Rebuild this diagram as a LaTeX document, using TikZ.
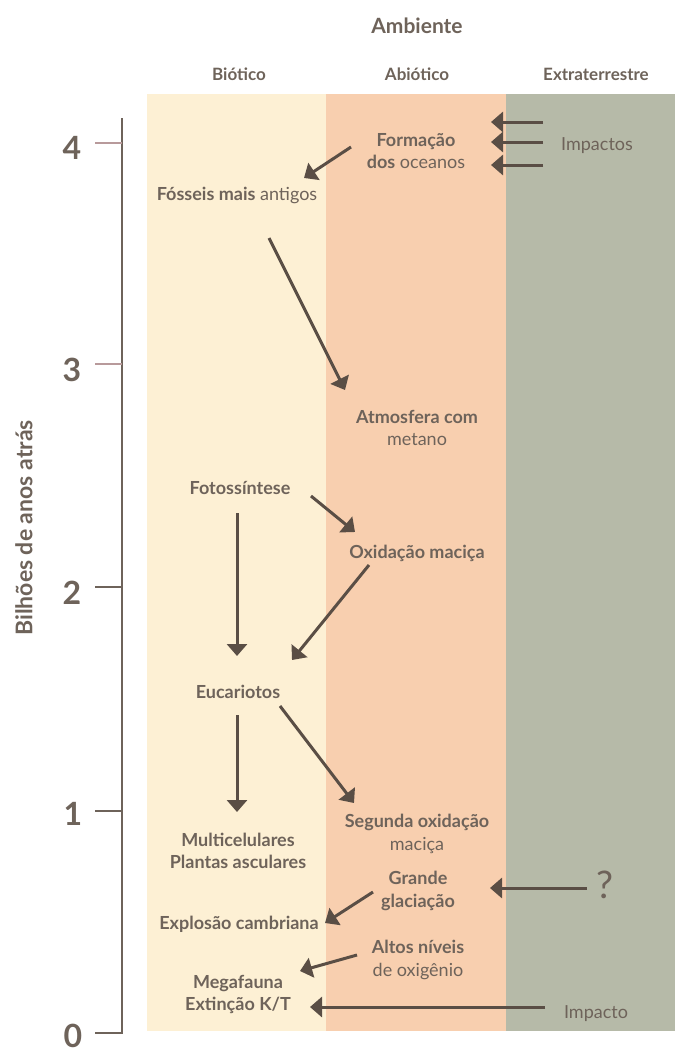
\documentclass[tikz,border=0pt]{standalone}
\usepackage{fontspec}
\setmainfont{Lato}
\usetikzlibrary{arrows.meta}
\definecolor{biocol}{HTML}{FDF0D4}
\definecolor{abiocol}{HTML}{F8CFAF}
\definecolor{extcol}{HTML}{B6BAA8}
\definecolor{txtcol}{HTML}{6E635A}
\definecolor{arrcol}{HTML}{5A4E45}
\definecolor{tickpink}{HTML}{B89A9B}
\begin{document}
\begin{tikzpicture}[x=1pt,y=-1pt,
  lbl/.style={text=txtcol, align=center, inner sep=0pt, font=\fontsize{18}{22.5}\selectfont},
  head/.style={text=txtcol, inner sep=0pt, font=\fontsize{17}{20}\selectfont\bfseries},
  num/.style={text=txtcol, inner sep=0pt, font=\fontsize{32}{32}\selectfont\bfseries},
  arr/.style={draw=arrcol, line width=3pt, -{Triangle[length=12pt,width=20pt]}},
  axisline/.style={draw=txtcol, line width=2.8pt},
  tickline/.style={line width=2.5pt}]
\useasboundingbox (0,0) rectangle (675,1052);
% panels
\fill[biocol] (147,94) rectangle (326,1031);
\fill[abiocol] (326,94) rectangle (506,1031);
\fill[extcol] (506,94) rectangle (675,1031);
% headers
\node[head, font=\fontsize{21}{24}\selectfont\bfseries] (amb) at (417,26) {Ambiente};
\node[head] (bio) at (239,74) {Biótico};
\node[head] (abio) at (417,74) {Abiótico};
\node[head] (ext) at (596,74) {Extraterrestre};
% axis
\coordinate (atop) at (122,118);
\coordinate (abot) at (122,1033);
\draw[axisline, line join=miter] (atop) -- (abot) -- ++(-27,0);
\draw[tickline, draw=tickpink] (95,143) -- (122,143);
\draw[tickline, draw=tickpink] (95,364) -- (122,364);
\draw[tickline, draw=txtcol] (95,587) -- (122,587);
\draw[tickline, draw=txtcol] (95,811) -- (122,811);
\node[num] (n4) at (72,148) {4};
\node[num] (n3) at (72,370) {3};
\node[num] (n2) at (72,593) {2};
\node[num] (n1) at (73,814) {1};
\node[num] (n0) at (73,1035.5) {0};
\node[head, font=\fontsize{23}{26}\selectfont\bfseries, rotate=90] (ylab) at (24,528) {Bilhões de anos atrás};
% labels
\node[lbl] (form) at (416,151) {\textbf{Formação}\\\textbf{dos} oceanos};
\node[lbl] (imps) at (597,146) {Impactos};
\node[lbl] (foss) at (237,195) {\textbf{Fósseis mais} antigos};
\node[lbl] (atm) at (417,428) {\textbf{Atmosfera com}\\metano};
\node[lbl] (foto) at (240,488) {\textbf{Fotossíntese}};
\node[lbl] (oxi) at (417,553) {\textbf{Oxidação maciça}};
\node[lbl] (euc) at (238,692) {\textbf{Eucariotos}};
\node[lbl] (seg) at (417,834) {\textbf{Segunda oxidação}\\maciça};
\node[lbl] (mult) at (238,851) {\textbf{Multicelulares}\\\textbf{Plantas asculares}};
\node[lbl] (gra) at (418,891) {\textbf{Grande}\\\textbf{glaciação}};
\node[lbl, font=\fontsize{38}{38}\selectfont] (q) at (605,885) {?};
\node[lbl] (expl) at (239,924) {\textbf{Explosão cambriana}};
\node[lbl] (alt) at (418,960) {\textbf{Altos níveis}\\de oxigênio};
\node[lbl] (mega) at (238,994.5) {\textbf{Megafauna}\\\textbf{Extinção K/T}};
\node[lbl] (imp) at (596,1014) {Impacto};
% arrows
\draw[arr] ([shift={(-54,-24)}]imps.center) -- ([shift={(75,-29)}]form.center);
\draw[arr] ([shift={(-54,-4)}]imps.center) -- ([shift={(75,-9)}]form.center);
\draw[arr] ([shift={(-54,19)}]imps.center) -- ([shift={(75,14)}]form.center);
\draw[arr] ([shift={(-65,-4)}]form.center) -- ([shift={(67,-17)}]foss.center);
\draw[arr] ([shift={(32,43)}]foss.center) -- ([shift={(-72,-38)}]atm.center);
\draw[arr] ([shift={(71,8)}]foto.center) -- ([shift={(-62,-21)}]oxi.center);
\draw[arr] ([shift={(-3,25)}]foto.center) -- ([shift={(-1,-36)}]euc.center);
\draw[arr] ([shift={(-48,12)}]oxi.center) -- ([shift={(54,-32)}]euc.center);
\draw[arr] ([shift={(-1,23)}]euc.center) -- ([shift={(-1,-39)}]mult.center);
\draw[arr] ([shift={(42,14)}]euc.center) -- ([shift={(-63,-31)}]seg.center);
\draw[arr] ([shift={(-18,3)}]q.center) -- ([shift={(72,-3)}]gra.center);
\draw[arr] ([shift={(-45,1)}]gra.center) -- ([shift={(86,-1)}]expl.center);
\draw[arr] ([shift={(-61,-5)}]alt.center) -- ([shift={(62,-23.5)}]mega.center);
\draw[arr] ([shift={(-51,-7)}]imp.center) -- ([shift={(72,12.5)}]mega.center);
\end{tikzpicture}
\end{document}
